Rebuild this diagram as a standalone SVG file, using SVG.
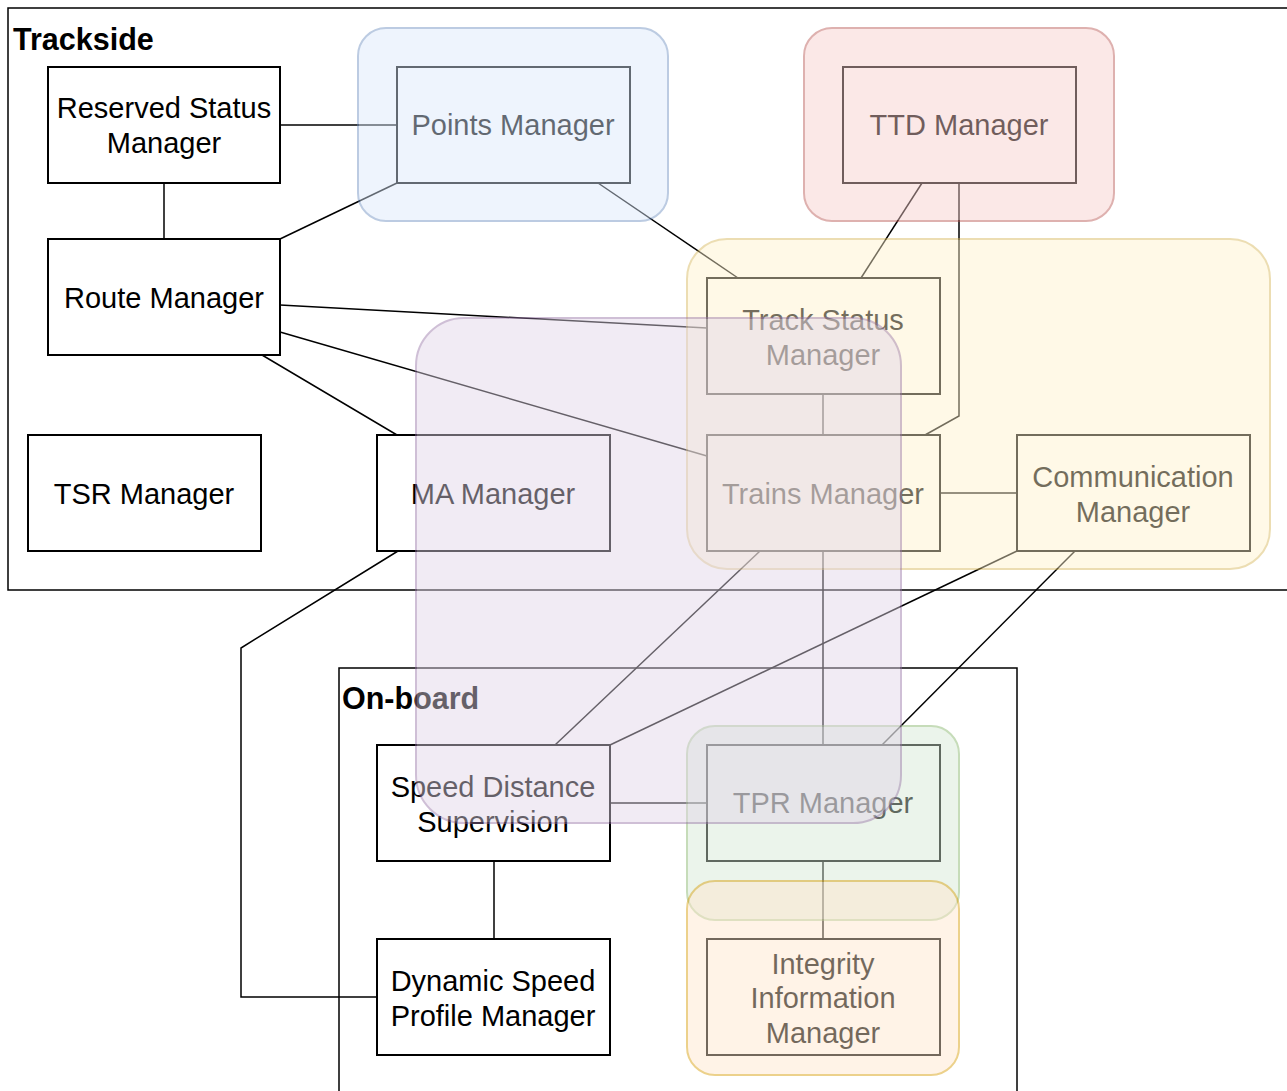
<svg xmlns="http://www.w3.org/2000/svg" width="1287" height="1091" viewBox="0 0 1287 1091">
<style>
.c{fill:none;stroke:#000;stroke-width:1.5}
.n rect{fill:#fff;stroke:#000;stroke-width:2}
.t{font-family:"Liberation Sans",Arial,sans-serif;font-size:29px;fill:#000;text-anchor:middle}
.b{font-family:"Liberation Sans",Arial,sans-serif;font-size:30.5px;font-weight:bold;fill:#000}
.l{fill:none;stroke:#000;stroke-width:1.5}
.o{opacity:0.45;stroke-width:2}
</style>
<rect width="1287" height="1091" fill="#fff"/>
<g id="trackside"><rect class="c" x="8" y="8" width="1290" height="582"/><text class="b" x="13" y="50">Trackside</text></g>
<g id="onboard"><rect class="c" x="339" y="668" width="678" height="440"/><text class="b" x="342" y="709">On-board</text></g>
<g id="connectors">
<polyline class="l" points="280,125 397,125"/>
<polyline class="l" points="164,183 164,239"/>
<polyline class="l" points="280,239 397,183"/>
<polyline class="l" points="280,305 707,328"/>
<polyline class="l" points="280,332 707,456"/>
<polyline class="l" points="262,355 397,435"/>
<polyline class="l" points="598,183 738,278"/>
<polyline class="l" points="922,183 861,278"/>
<polyline class="l" points="959,183 959,416 925,435"/>
<polyline class="l" points="823,394 823,435"/>
<polyline class="l" points="940,493 1017,493"/>
<polyline class="l" points="760,551 555,745"/>
<polyline class="l" points="823,551 823,745"/>
<polyline class="l" points="1017,551 610,745"/>
<polyline class="l" points="1075,551 882,745"/>
<polyline class="l" points="398,551 241,648 241,997 377,997"/>
<polyline class="l" points="494,861 494,939"/>
<polyline class="l" points="610,803 707,803"/>
<polyline class="l" points="823,861 823,939"/>
</g>
<g id="reserved" class="n"><rect x="48" y="67" width="232" height="116"/><text class="t" x="164" y="118">Reserved Status</text><text class="t" x="164" y="153">Manager</text></g>
<g id="route" class="n"><rect x="48" y="239" width="232" height="116"/><text class="t" x="164" y="308">Route Manager</text></g>
<g id="tsr" class="n"><rect x="28" y="435" width="233" height="116"/><text class="t" x="144" y="504">TSR Manager</text></g>
<g id="ma" class="n"><rect x="377" y="435" width="233" height="116"/><text class="t" x="493" y="504">MA Manager</text></g>
<g id="points" class="n"><rect x="397" y="67" width="233" height="116"/><text class="t" x="513" y="135">Points Manager</text></g>
<g id="ttd" class="n"><rect x="843" y="67" width="233" height="116"/><text class="t" x="959" y="135">TTD Manager</text></g>
<g id="trackstatus" class="n"><rect x="707" y="278" width="233" height="116"/><text class="t" x="823" y="330">Track Status</text><text class="t" x="823" y="365">Manager</text></g>
<g id="trains" class="n"><rect x="707" y="435" width="233" height="116"/><text class="t" x="823" y="504">Trains Manager</text></g>
<g id="comm" class="n"><rect x="1017" y="435" width="233" height="116"/><text class="t" x="1133" y="487">Communication</text><text class="t" x="1133" y="522">Manager</text></g>
<g id="sds" class="n"><rect x="377" y="745" width="233" height="116"/><text class="t" x="493" y="797">Speed Distance</text><text class="t" x="493" y="832">Supervision</text></g>
<g id="dsp" class="n"><rect x="377" y="939" width="233" height="116"/><text class="t" x="493" y="991">Dynamic Speed</text><text class="t" x="493" y="1026">Profile Manager</text></g>
<g id="tpr" class="n"><rect x="707" y="745" width="233" height="116"/><text class="t" x="823" y="813">TPR Manager</text></g>
<g id="integrity" class="n"><rect x="707" y="939" width="233" height="116"/><text class="t" x="823" y="974">Integrity</text><text class="t" x="823" y="1008">Information</text><text class="t" x="823" y="1043">Manager</text></g>
<g id="overlays">
<rect class="o" x="358" y="28" width="310" height="193" rx="28" fill="#dae8fc" stroke="#6c8ebf"/>
<rect class="o" x="804" y="28" width="310" height="193" rx="28" fill="#f8cecc" stroke="#b85450"/>
<rect class="o" x="687" y="239" width="583" height="330" rx="40" fill="#fff2cc" stroke="#d6b656"/>
<rect class="o" x="687" y="726" width="272" height="194" rx="28" fill="#d5e8d4" stroke="#82b366"/>
<rect class="o" x="687" y="881" width="272" height="194" rx="28" fill="#ffe6cc" stroke="#d79b00"/>
<rect class="o" x="416" y="318" width="485" height="505" rx="48" fill="#e1d5e7" stroke="#9673a6"/>
</g>
</svg>
